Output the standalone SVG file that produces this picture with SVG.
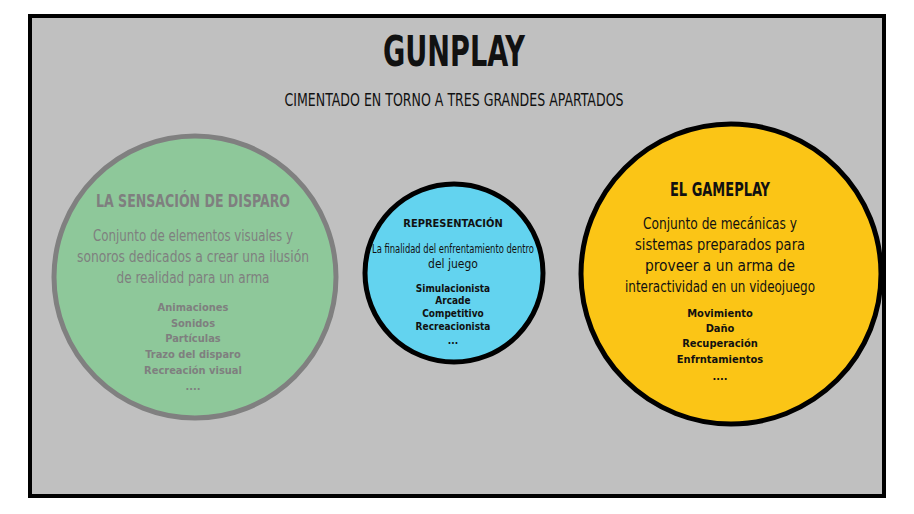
<svg xmlns="http://www.w3.org/2000/svg" width="914" height="514" viewBox="0 0 914 514">
<style>
text{font-family:"DejaVu Sans Condensed","Liberation Sans Narrow","DejaVu Sans",sans-serif;font-stretch:condensed;text-anchor:middle}
.b{font-weight:bold}
.g{fill:#7f7f7f}
.k{fill:#111}
</style>
<rect x="30" y="16" width="854" height="480" fill="#c0c0c0" stroke="#000" stroke-width="4"/>
<g id="title">
<text x="454" y="66" class="b k" font-size="42" textLength="142" lengthAdjust="spacingAndGlyphs">GUNPLAY</text>
<text x="454" y="106" class="k" font-size="17" textLength="339" lengthAdjust="spacingAndGlyphs">CIMENTADO EN TORNO A TRES GRANDES APARTADOS</text>
</g>
<g id="sensacion">
<circle cx="195" cy="277" r="141" fill="#8ec89a" stroke="#808080" stroke-width="5"/>
<text x="193" y="207" class="b g" font-size="18" textLength="194" lengthAdjust="spacingAndGlyphs">LA SENSACIÓN DE DISPARO</text>
<text x="193" y="241" class="g" font-size="16" textLength="200" lengthAdjust="spacingAndGlyphs">Conjunto de elementos visuales y</text>
<text x="193" y="262" class="g" font-size="16" textLength="232" lengthAdjust="spacingAndGlyphs">sonoros dedicados a crear una ilusión</text>
<text x="193" y="283" class="g" font-size="16" textLength="153" lengthAdjust="spacingAndGlyphs">de realidad para un arma</text>
<text x="193" y="311" class="b g" font-size="11">Animaciones</text>
<text x="193" y="327" class="b g" font-size="11">Sonidos</text>
<text x="193" y="342" class="b g" font-size="11">Partículas</text>
<text x="193" y="358" class="b g" font-size="11">Trazo del disparo</text>
<text x="193" y="374" class="b g" font-size="11">Recreación visual</text>
<text x="193" y="390" class="b g" font-size="11">....</text>
</g>
<g id="representacion">
<circle cx="454" cy="273" r="89" fill="#63d3ef" stroke="#000" stroke-width="5"/>
<text x="453" y="227" class="b k" font-size="11">REPRESENTACIÓN</text>
<text x="453" y="253" class="k" font-size="12" textLength="162" lengthAdjust="spacingAndGlyphs">La finalidad del enfrentamiento dentro</text>
<text x="453" y="268" class="k" font-size="12">del juego</text>
<text x="453" y="292" class="b k" font-size="10">Simulacionista</text>
<text x="453" y="304" class="b k" font-size="10">Arcade</text>
<text x="453" y="317" class="b k" font-size="10">Competitivo</text>
<text x="453" y="330" class="b k" font-size="10">Recreacionista</text>
<text x="453" y="344" class="b k" font-size="10">...</text>
</g>
<g id="gameplay">
<circle cx="731" cy="274" r="150" fill="#fbc516" stroke="#000" stroke-width="5"/>
<text x="720" y="196" class="b k" font-size="19" textLength="100" lengthAdjust="spacingAndGlyphs">EL GAMEPLAY</text>
<text x="720" y="229" class="k" font-size="16" textLength="154" lengthAdjust="spacingAndGlyphs">Conjunto de mecánicas y</text>
<text x="720" y="250" class="k" font-size="16" textLength="170" lengthAdjust="spacingAndGlyphs">sistemas preparados para</text>
<text x="720" y="271" class="k" font-size="16" textLength="150" lengthAdjust="spacingAndGlyphs">proveer a un arma de</text>
<text x="720" y="292" class="k" font-size="16" textLength="190" lengthAdjust="spacingAndGlyphs">interactividad en un videojuego</text>
<text x="720" y="317" class="b k" font-size="11">Movimiento</text>
<text x="720" y="332" class="b k" font-size="11">Daño</text>
<text x="720" y="347" class="b k" font-size="11">Recuperación</text>
<text x="720" y="363" class="b k" font-size="11">Enfrntamientos</text>
<text x="720" y="380" class="b k" font-size="11">....</text>
</g>
<g id="connectors"/>
</svg>
